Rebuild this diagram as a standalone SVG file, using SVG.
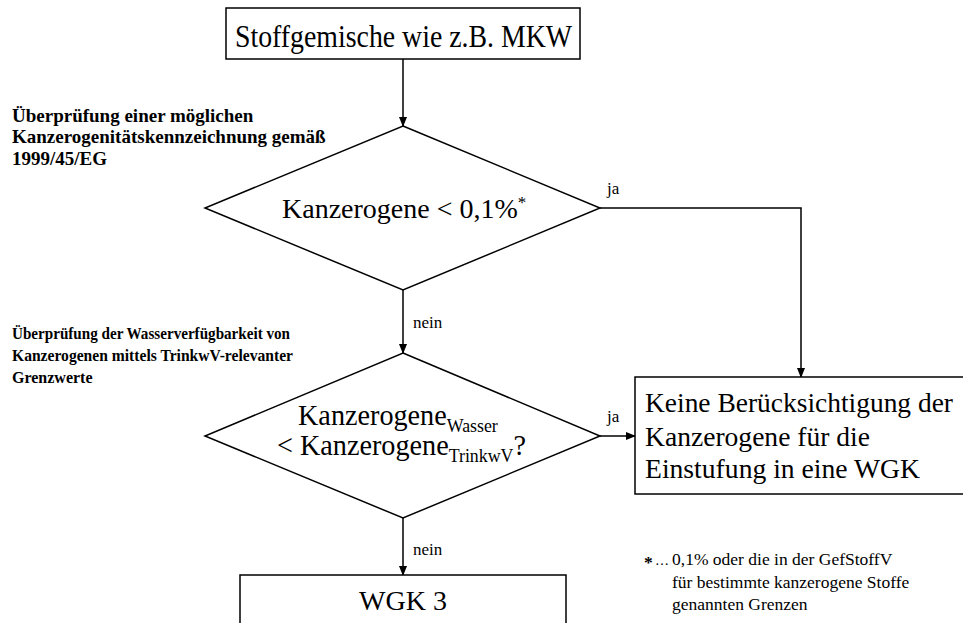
<svg xmlns="http://www.w3.org/2000/svg" width="963" height="623" viewBox="0 0 963 623">
<style>
.box{fill:#fff;stroke:#000;stroke-width:1.5}
.t{font-family:"Liberation Serif","Times New Roman",serif;fill:#000}
.big{font-size:28px}
.lab{font-size:17px}
.note1{font-size:19px;font-weight:bold}
.note2{font-size:16px;font-weight:bold}
.foot{font-size:17.5px}
.con{fill:none;stroke:#000;stroke-width:1.5}
</style>
<defs>
<marker id="ah" markerWidth="10" markerHeight="8" refX="9" refY="4" orient="auto" markerUnits="userSpaceOnUse">
<path d="M0,0 L10,4 L0,8 Z" fill="#000"/>
</marker>
</defs>
<rect width="963" height="623" fill="#fff"/>
<g id="connectors">
<line class="con" x1="403" y1="59" x2="403" y2="126" marker-end="url(#ah)"/>
<polyline class="con" points="600,208 801,208 801,377" marker-end="url(#ah)"/>
<line class="con" x1="403" y1="290" x2="403" y2="353" marker-end="url(#ah)"/>
<line class="con" x1="600" y1="436" x2="635" y2="436" marker-end="url(#ah)"/>
<line class="con" x1="403" y1="518" x2="403" y2="575" marker-end="url(#ah)"/>
<text class="t lab" x="607" y="194">ja</text>
<text class="t lab" x="607" y="422">ja</text>
<text class="t lab" x="413" y="328">nein</text>
<text class="t lab" x="413" y="555">nein</text>
</g>
<g id="start">
<rect class="box" x="226" y="8" width="354" height="51"/>
<text class="t" font-size="31" x="235" y="47" textLength="337" lengthAdjust="spacingAndGlyphs">Stoffgemische wie z.B. MKW</text>
</g>
<g id="note1">
<text class="t note1" x="12" y="122">Überprüfung einer möglichen</text>
<text class="t note1" x="12" y="143">Kanzerogenitätskennzeichnung gemäß</text>
<text class="t note1" x="12" y="165">1999/45/EG</text>
</g>
<g id="decision1">
<polygon class="box" points="403,126 600,208 403,290 205,208"/>
<text class="t big" x="282" y="218">Kanzerogene &lt; 0,1%<tspan font-size="17" dy="-10">*</tspan></text>
</g>
<g id="note2">
<text class="t note2" x="12" y="339" textLength="278" lengthAdjust="spacingAndGlyphs">Überprüfung der Wasserverfügbarkeit von</text>
<text class="t note2" x="12" y="361" textLength="281" lengthAdjust="spacingAndGlyphs">Kanzerogenen mittels TrinkwV-relevanter</text>
<text class="t note2" x="12" y="383">Grenzwerte</text>
</g>
<g id="decision2">
<polygon class="box" points="403,353 600,436 403,518 205,436"/>
<g transform="translate(298,425) scale(0.94,1)">
<text class="t" font-size="30" x="0" y="0">Kanzerogene<tspan font-size="19" dy="7">Wasser</tspan></text>
</g>
<g transform="translate(277,455) scale(0.94,1)">
<text class="t" font-size="30" x="0" y="0">&lt; Kanzerogene<tspan font-size="19" dy="7">TrinkwV</tspan><tspan dy="-7">?</tspan></text>
</g>
</g>
<g id="result-no">
<rect class="box" x="635" y="377" width="332" height="117"/>
<text class="t big" x="645" y="412" textLength="308" lengthAdjust="spacingAndGlyphs">Keine Berücksichtigung der</text>
<text class="t big" x="645" y="446" textLength="225" lengthAdjust="spacingAndGlyphs">Kanzerogene für die</text>
<text class="t big" x="645" y="478" textLength="275" lengthAdjust="spacingAndGlyphs">Einstufung in eine WGK</text>
</g>
<g id="result-wgk3">
<rect class="box" x="240" y="575" width="326" height="60"/>
<text class="t big" x="403" y="610" text-anchor="middle">WGK 3</text>
</g>
<g id="footnote">
<text class="t foot" font-weight="bold" x="644" y="568">*</text>
<text class="t" font-size="14" x="655" y="565">…</text>
<text class="t foot" x="672" y="565">0,1% oder die in der GefStoffV</text>
<text class="t foot" x="672" y="588">für bestimmte kanzerogene Stoffe</text>
<text class="t foot" x="672" y="610">genannten Grenzen</text>
</g>
</svg>
